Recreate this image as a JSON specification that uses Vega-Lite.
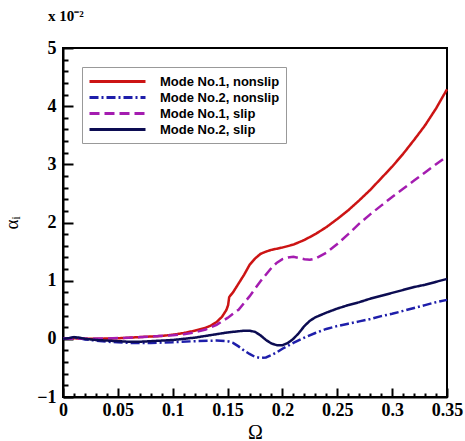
{
  "$schema": "https://vega.github.io/schema/vega-lite/v6.json",
  "width": 384,
  "height": 349,
  "autosize": "none",
  "padding": {"left": 63, "top": 48, "right": 18, "bottom": 44},
  "background": "white",
  "title": {"text": "x 10⁻²", "anchor": "start", "frame": "group", "orient": "top", "dx": -15, "offset": 15, "font": "Liberation Serif", "fontWeight": "bold", "fontSize": 15, "color": "black"},
  "config": {
    "view": {"stroke": "black", "strokeWidth": 2}
  },
  "data": {"values": [
    {"o": 0, "a": 0, "s": "Mode No.1, nonslip"},
    {"o": 0.01, "a": 0.01, "s": "Mode No.1, nonslip"},
    {"o": 0.02, "a": 0, "s": "Mode No.1, nonslip"},
    {"o": 0.03, "a": 0, "s": "Mode No.1, nonslip"},
    {"o": 0.04, "a": 0.005, "s": "Mode No.1, nonslip"},
    {"o": 0.05, "a": 0.01, "s": "Mode No.1, nonslip"},
    {"o": 0.06, "a": 0.02, "s": "Mode No.1, nonslip"},
    {"o": 0.07, "a": 0.03, "s": "Mode No.1, nonslip"},
    {"o": 0.08, "a": 0.04, "s": "Mode No.1, nonslip"},
    {"o": 0.09, "a": 0.05, "s": "Mode No.1, nonslip"},
    {"o": 0.1, "a": 0.07, "s": "Mode No.1, nonslip"},
    {"o": 0.11, "a": 0.1, "s": "Mode No.1, nonslip"},
    {"o": 0.12, "a": 0.14, "s": "Mode No.1, nonslip"},
    {"o": 0.13, "a": 0.19, "s": "Mode No.1, nonslip"},
    {"o": 0.135, "a": 0.23, "s": "Mode No.1, nonslip"},
    {"o": 0.14, "a": 0.29, "s": "Mode No.1, nonslip"},
    {"o": 0.145, "a": 0.38, "s": "Mode No.1, nonslip"},
    {"o": 0.149, "a": 0.5, "s": "Mode No.1, nonslip"},
    {"o": 0.1505, "a": 0.58, "s": "Mode No.1, nonslip"},
    {"o": 0.1515, "a": 0.72, "s": "Mode No.1, nonslip"},
    {"o": 0.155, "a": 0.8, "s": "Mode No.1, nonslip"},
    {"o": 0.16, "a": 0.95, "s": "Mode No.1, nonslip"},
    {"o": 0.165, "a": 1.1, "s": "Mode No.1, nonslip"},
    {"o": 0.17, "a": 1.27, "s": "Mode No.1, nonslip"},
    {"o": 0.175, "a": 1.38, "s": "Mode No.1, nonslip"},
    {"o": 0.18, "a": 1.46, "s": "Mode No.1, nonslip"},
    {"o": 0.185, "a": 1.5, "s": "Mode No.1, nonslip"},
    {"o": 0.19, "a": 1.53, "s": "Mode No.1, nonslip"},
    {"o": 0.2, "a": 1.57, "s": "Mode No.1, nonslip"},
    {"o": 0.21, "a": 1.62, "s": "Mode No.1, nonslip"},
    {"o": 0.22, "a": 1.7, "s": "Mode No.1, nonslip"},
    {"o": 0.23, "a": 1.8, "s": "Mode No.1, nonslip"},
    {"o": 0.24, "a": 1.92, "s": "Mode No.1, nonslip"},
    {"o": 0.25, "a": 2.06, "s": "Mode No.1, nonslip"},
    {"o": 0.26, "a": 2.21, "s": "Mode No.1, nonslip"},
    {"o": 0.27, "a": 2.38, "s": "Mode No.1, nonslip"},
    {"o": 0.28, "a": 2.56, "s": "Mode No.1, nonslip"},
    {"o": 0.29, "a": 2.76, "s": "Mode No.1, nonslip"},
    {"o": 0.3, "a": 2.96, "s": "Mode No.1, nonslip"},
    {"o": 0.31, "a": 3.18, "s": "Mode No.1, nonslip"},
    {"o": 0.32, "a": 3.42, "s": "Mode No.1, nonslip"},
    {"o": 0.33, "a": 3.67, "s": "Mode No.1, nonslip"},
    {"o": 0.34, "a": 3.96, "s": "Mode No.1, nonslip"},
    {"o": 0.35, "a": 4.29, "s": "Mode No.1, nonslip"},

    {"o": 0, "a": 0, "s": "Mode No.2, nonslip"},
    {"o": 0.005, "a": 0.01, "s": "Mode No.2, nonslip"},
    {"o": 0.01, "a": 0.02, "s": "Mode No.2, nonslip"},
    {"o": 0.015, "a": 0.01, "s": "Mode No.2, nonslip"},
    {"o": 0.02, "a": -0.01, "s": "Mode No.2, nonslip"},
    {"o": 0.03, "a": -0.03, "s": "Mode No.2, nonslip"},
    {"o": 0.04, "a": -0.05, "s": "Mode No.2, nonslip"},
    {"o": 0.05, "a": -0.06, "s": "Mode No.2, nonslip"},
    {"o": 0.06, "a": -0.07, "s": "Mode No.2, nonslip"},
    {"o": 0.08, "a": -0.07, "s": "Mode No.2, nonslip"},
    {"o": 0.1, "a": -0.06, "s": "Mode No.2, nonslip"},
    {"o": 0.12, "a": -0.04, "s": "Mode No.2, nonslip"},
    {"o": 0.14, "a": -0.03, "s": "Mode No.2, nonslip"},
    {"o": 0.15, "a": -0.04, "s": "Mode No.2, nonslip"},
    {"o": 0.155, "a": -0.07, "s": "Mode No.2, nonslip"},
    {"o": 0.16, "a": -0.13, "s": "Mode No.2, nonslip"},
    {"o": 0.165, "a": -0.2, "s": "Mode No.2, nonslip"},
    {"o": 0.17, "a": -0.26, "s": "Mode No.2, nonslip"},
    {"o": 0.175, "a": -0.31, "s": "Mode No.2, nonslip"},
    {"o": 0.18, "a": -0.33, "s": "Mode No.2, nonslip"},
    {"o": 0.185, "a": -0.32, "s": "Mode No.2, nonslip"},
    {"o": 0.19, "a": -0.28, "s": "Mode No.2, nonslip"},
    {"o": 0.195, "a": -0.23, "s": "Mode No.2, nonslip"},
    {"o": 0.2, "a": -0.17, "s": "Mode No.2, nonslip"},
    {"o": 0.21, "a": -0.07, "s": "Mode No.2, nonslip"},
    {"o": 0.22, "a": 0.02, "s": "Mode No.2, nonslip"},
    {"o": 0.23, "a": 0.1, "s": "Mode No.2, nonslip"},
    {"o": 0.24, "a": 0.17, "s": "Mode No.2, nonslip"},
    {"o": 0.25, "a": 0.22, "s": "Mode No.2, nonslip"},
    {"o": 0.26, "a": 0.26, "s": "Mode No.2, nonslip"},
    {"o": 0.27, "a": 0.3, "s": "Mode No.2, nonslip"},
    {"o": 0.28, "a": 0.34, "s": "Mode No.2, nonslip"},
    {"o": 0.29, "a": 0.39, "s": "Mode No.2, nonslip"},
    {"o": 0.3, "a": 0.43, "s": "Mode No.2, nonslip"},
    {"o": 0.31, "a": 0.48, "s": "Mode No.2, nonslip"},
    {"o": 0.32, "a": 0.53, "s": "Mode No.2, nonslip"},
    {"o": 0.33, "a": 0.58, "s": "Mode No.2, nonslip"},
    {"o": 0.34, "a": 0.63, "s": "Mode No.2, nonslip"},
    {"o": 0.35, "a": 0.67, "s": "Mode No.2, nonslip"},

    {"o": 0, "a": 0, "s": "Mode No.1, slip"},
    {"o": 0.02, "a": 0, "s": "Mode No.1, slip"},
    {"o": 0.04, "a": 0.005, "s": "Mode No.1, slip"},
    {"o": 0.06, "a": 0.02, "s": "Mode No.1, slip"},
    {"o": 0.08, "a": 0.04, "s": "Mode No.1, slip"},
    {"o": 0.1, "a": 0.06, "s": "Mode No.1, slip"},
    {"o": 0.11, "a": 0.08, "s": "Mode No.1, slip"},
    {"o": 0.12, "a": 0.11, "s": "Mode No.1, slip"},
    {"o": 0.13, "a": 0.16, "s": "Mode No.1, slip"},
    {"o": 0.14, "a": 0.24, "s": "Mode No.1, slip"},
    {"o": 0.15, "a": 0.36, "s": "Mode No.1, slip"},
    {"o": 0.16, "a": 0.5, "s": "Mode No.1, slip"},
    {"o": 0.17, "a": 0.73, "s": "Mode No.1, slip"},
    {"o": 0.18, "a": 0.99, "s": "Mode No.1, slip"},
    {"o": 0.19, "a": 1.22, "s": "Mode No.1, slip"},
    {"o": 0.195, "a": 1.31, "s": "Mode No.1, slip"},
    {"o": 0.2, "a": 1.37, "s": "Mode No.1, slip"},
    {"o": 0.205, "a": 1.4, "s": "Mode No.1, slip"},
    {"o": 0.21, "a": 1.41, "s": "Mode No.1, slip"},
    {"o": 0.215, "a": 1.39, "s": "Mode No.1, slip"},
    {"o": 0.22, "a": 1.37, "s": "Mode No.1, slip"},
    {"o": 0.225, "a": 1.36, "s": "Mode No.1, slip"},
    {"o": 0.23, "a": 1.38, "s": "Mode No.1, slip"},
    {"o": 0.24, "a": 1.48, "s": "Mode No.1, slip"},
    {"o": 0.25, "a": 1.63, "s": "Mode No.1, slip"},
    {"o": 0.26, "a": 1.8, "s": "Mode No.1, slip"},
    {"o": 0.27, "a": 1.98, "s": "Mode No.1, slip"},
    {"o": 0.28, "a": 2.14, "s": "Mode No.1, slip"},
    {"o": 0.29, "a": 2.29, "s": "Mode No.1, slip"},
    {"o": 0.3, "a": 2.44, "s": "Mode No.1, slip"},
    {"o": 0.31, "a": 2.58, "s": "Mode No.1, slip"},
    {"o": 0.32, "a": 2.72, "s": "Mode No.1, slip"},
    {"o": 0.33, "a": 2.86, "s": "Mode No.1, slip"},
    {"o": 0.34, "a": 3.0, "s": "Mode No.1, slip"},
    {"o": 0.35, "a": 3.14, "s": "Mode No.1, slip"},

    {"o": 0, "a": 0, "s": "Mode No.2, slip"},
    {"o": 0.005, "a": 0.01, "s": "Mode No.2, slip"},
    {"o": 0.01, "a": 0.03, "s": "Mode No.2, slip"},
    {"o": 0.015, "a": 0.02, "s": "Mode No.2, slip"},
    {"o": 0.02, "a": 0, "s": "Mode No.2, slip"},
    {"o": 0.03, "a": -0.02, "s": "Mode No.2, slip"},
    {"o": 0.04, "a": -0.03, "s": "Mode No.2, slip"},
    {"o": 0.05, "a": -0.04, "s": "Mode No.2, slip"},
    {"o": 0.06, "a": -0.05, "s": "Mode No.2, slip"},
    {"o": 0.07, "a": -0.05, "s": "Mode No.2, slip"},
    {"o": 0.08, "a": -0.04, "s": "Mode No.2, slip"},
    {"o": 0.09, "a": -0.03, "s": "Mode No.2, slip"},
    {"o": 0.1, "a": -0.02, "s": "Mode No.2, slip"},
    {"o": 0.11, "a": 0, "s": "Mode No.2, slip"},
    {"o": 0.12, "a": 0.02, "s": "Mode No.2, slip"},
    {"o": 0.13, "a": 0.05, "s": "Mode No.2, slip"},
    {"o": 0.14, "a": 0.08, "s": "Mode No.2, slip"},
    {"o": 0.15, "a": 0.11, "s": "Mode No.2, slip"},
    {"o": 0.16, "a": 0.13, "s": "Mode No.2, slip"},
    {"o": 0.165, "a": 0.14, "s": "Mode No.2, slip"},
    {"o": 0.17, "a": 0.14, "s": "Mode No.2, slip"},
    {"o": 0.175, "a": 0.12, "s": "Mode No.2, slip"},
    {"o": 0.18, "a": 0.06, "s": "Mode No.2, slip"},
    {"o": 0.185, "a": -0.02, "s": "Mode No.2, slip"},
    {"o": 0.19, "a": -0.08, "s": "Mode No.2, slip"},
    {"o": 0.195, "a": -0.11, "s": "Mode No.2, slip"},
    {"o": 0.2, "a": -0.11, "s": "Mode No.2, slip"},
    {"o": 0.205, "a": -0.07, "s": "Mode No.2, slip"},
    {"o": 0.21, "a": 0.0, "s": "Mode No.2, slip"},
    {"o": 0.215, "a": 0.1, "s": "Mode No.2, slip"},
    {"o": 0.22, "a": 0.22, "s": "Mode No.2, slip"},
    {"o": 0.225, "a": 0.31, "s": "Mode No.2, slip"},
    {"o": 0.23, "a": 0.37, "s": "Mode No.2, slip"},
    {"o": 0.24, "a": 0.45, "s": "Mode No.2, slip"},
    {"o": 0.25, "a": 0.52, "s": "Mode No.2, slip"},
    {"o": 0.26, "a": 0.58, "s": "Mode No.2, slip"},
    {"o": 0.27, "a": 0.63, "s": "Mode No.2, slip"},
    {"o": 0.28, "a": 0.69, "s": "Mode No.2, slip"},
    {"o": 0.29, "a": 0.74, "s": "Mode No.2, slip"},
    {"o": 0.3, "a": 0.79, "s": "Mode No.2, slip"},
    {"o": 0.31, "a": 0.84, "s": "Mode No.2, slip"},
    {"o": 0.32, "a": 0.89, "s": "Mode No.2, slip"},
    {"o": 0.33, "a": 0.93, "s": "Mode No.2, slip"},
    {"o": 0.34, "a": 0.98, "s": "Mode No.2, slip"},
    {"o": 0.35, "a": 1.03, "s": "Mode No.2, slip"}
  ]},
  "mark": {"type": "line", "strokeWidth": 2.5},
  "encoding": {
    "x": {"field": "o", "type": "quantitative", "scale": {"domain": [0, 0.35], "nice": false, "zero": false},
          "axis": {"values": [0,0.01,0.02,0.03,0.04,0.05,0.06,0.07,0.08,0.09,0.1,0.11,0.12,0.13,0.14,0.15,0.16,0.17,0.18,0.19,0.2,0.21,0.22,0.23,0.24,0.25,0.26,0.27,0.28,0.29,0.3,0.31,0.32,0.33,0.34,0.35],
                   "domainColor": "black", "domainWidth": 2, "gridOpacity": 0, "tickColor": "black", "tickWidth": 2,
                   "tickSize": {"condition": {"test": "round(datum.value * 100) % 5 == 0", "value": -9}, "value": -4},
                   "labelPadding": 13, "labelFlush": false, "labelOverlap": false,
                   "labelExpr": "round(datum.value * 100) % 5 != 0 ? '' : (datum.value == 0 ? '0' : format(datum.value, '.2~f'))",
                   "labelFont": "Liberation Serif", "labelFontWeight": "bold", "labelFontSize": 18, "labelColor": "black",
                   "title": "Ω", "titleFont": "Liberation Serif", "titleFontWeight": "normal", "titleColor": "black", "titleFontSize": 20, "titlePadding": -2}},
    "y": {"field": "a", "type": "quantitative", "scale": {"domain": [-1, 5], "nice": false, "zero": false},
          "axis": {"values": [-1,-0.8,-0.6,-0.4,-0.2,0,0.2,0.4,0.6,0.8,1,1.2,1.4,1.6,1.8,2,2.2,2.4,2.6,2.8,3,3.2,3.4,3.6,3.8,4,4.2,4.4,4.6,4.8,5],
                   "domainColor": "black", "domainWidth": 2, "gridOpacity": 0, "tickColor": "black", "tickWidth": 2,
                   "tickSize": {"condition": {"test": "round(datum.value * 10) % 10 == 0", "value": -10}, "value": -5},
                   "labelPadding": 17, "labelFlush": false, "labelOverlap": false,
                   "labelExpr": "round(datum.value * 10) % 10 != 0 ? '' : format(datum.value, 'd')",
                   "labelFont": "Liberation Serif", "labelFontWeight": "bold", "labelFontSize": 18, "labelColor": "black",
                   "title": "αᵢ", "titleFont": "Liberation Serif", "titleFontWeight": "normal", "titleColor": "black", "titleFontSize": 19, "titleAngle": -90, "titlePadding": 15}},
    "color": {"field": "s", "type": "nominal", "sort": ["Mode No.1, nonslip", "Mode No.2, nonslip", "Mode No.1, slip", "Mode No.2, slip"],
              "scale": {"domain": ["Mode No.1, nonslip", "Mode No.2, nonslip", "Mode No.1, slip", "Mode No.2, slip"], "range": ["#cc1414", "#1e1eaa", "#a41cb0", "#0c0c52"]},
              "legend": {"orient": "none", "legendX": 19, "legendY": 19, "title": null, "strokeColor": "#999999", "fillColor": "white", "padding": 6, "symbolType": "M-1,0H7", "symbolSize": 196, "symbolStrokeWidth": 3, "labelFont": "Liberation Sans", "labelFontWeight": "bold", "labelFontSize": 13, "labelColor": "black", "labelOffset": 55, "rowPadding": 0}},
    "strokeDash": {"field": "s", "type": "nominal", "sort": ["Mode No.1, nonslip", "Mode No.2, nonslip", "Mode No.1, slip", "Mode No.2, slip"],
              "scale": {"domain": ["Mode No.1, nonslip", "Mode No.2, nonslip", "Mode No.1, slip", "Mode No.2, slip"], "range": [[1, 0], [9, 3, 2, 3], [10, 5], [1, 0]]},
              "legend": null}
  }
}
